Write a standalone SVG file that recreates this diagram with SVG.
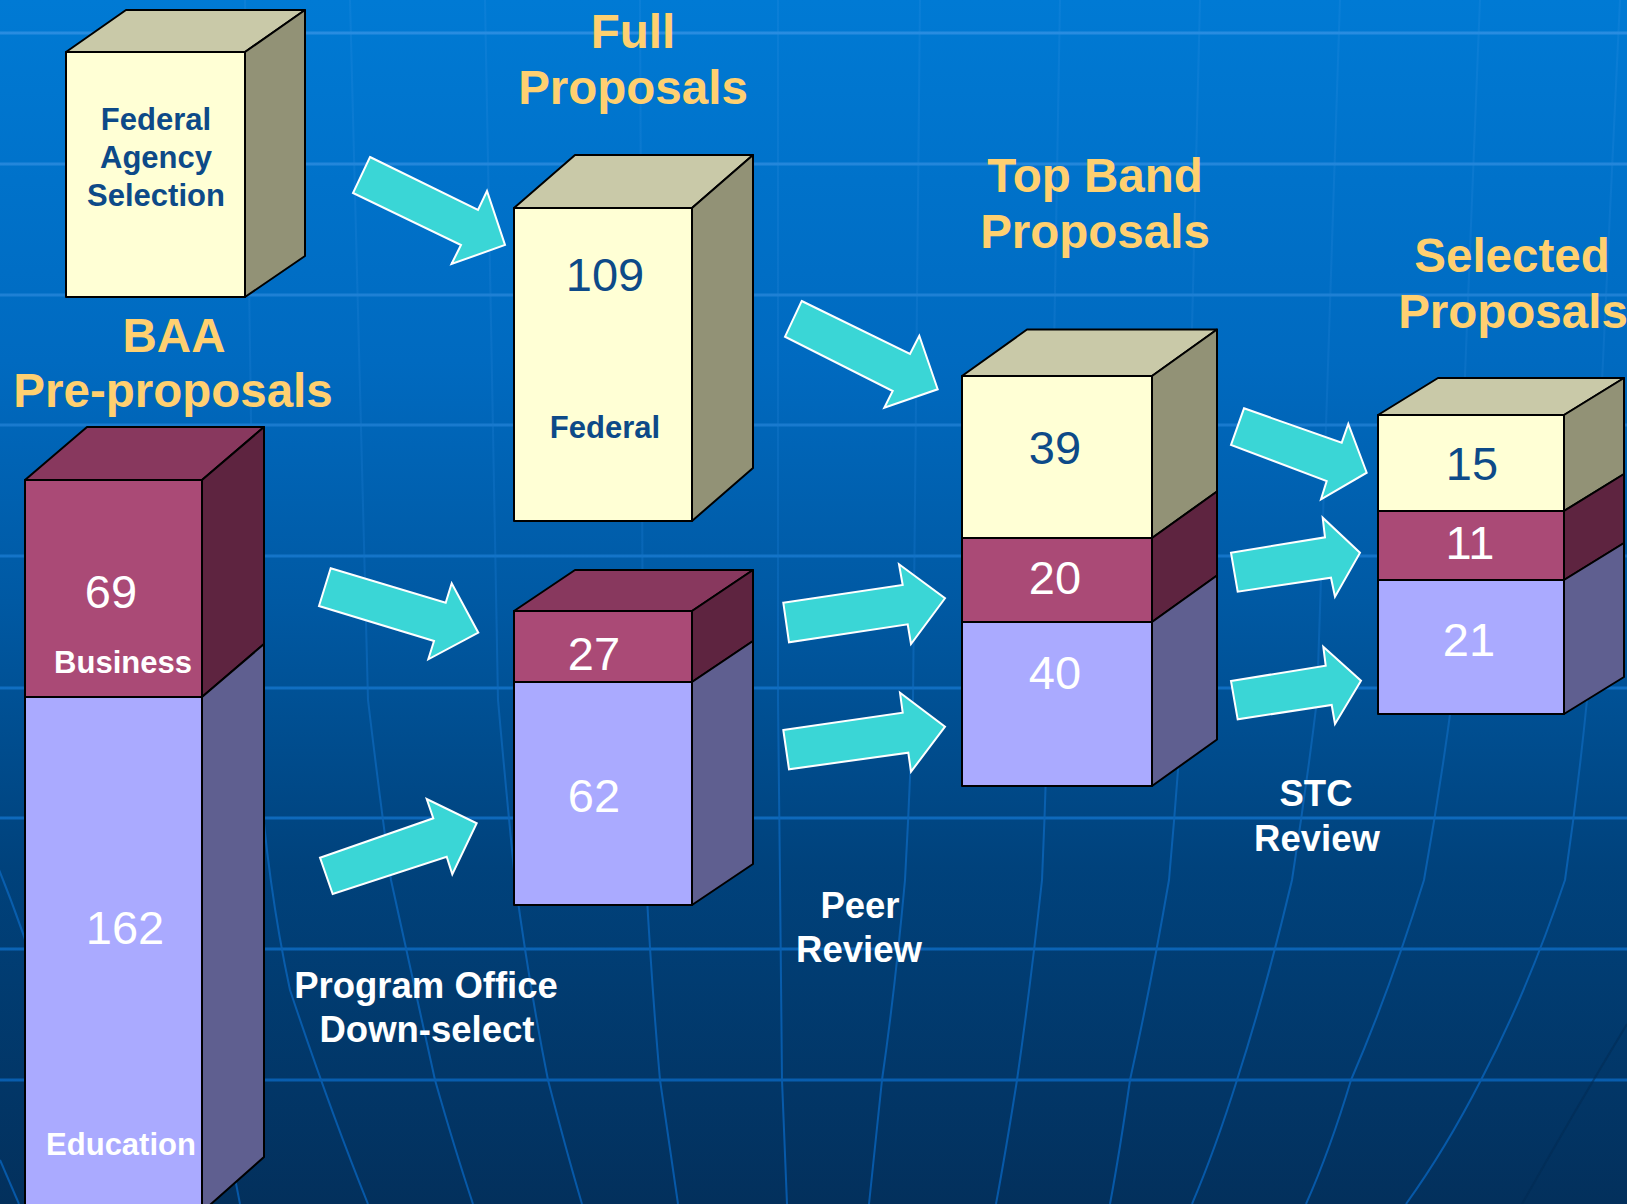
<svg xmlns="http://www.w3.org/2000/svg" width="1627" height="1204" viewBox="0 0 1627 1204">
<defs>
<linearGradient id="bg" x1="0" y1="0" x2="0" y2="1204" gradientUnits="userSpaceOnUse">
<stop offset="0" stop-color="#007ad4"/>
<stop offset="0.3" stop-color="#006ac0"/>
<stop offset="0.5" stop-color="#0059a3"/>
<stop offset="0.72" stop-color="#00427c"/>
<stop offset="1" stop-color="#03305c"/>
</linearGradient>
<linearGradient id="ln" x1="0" y1="0" x2="0" y2="1204" gradientUnits="userSpaceOnUse">
<stop offset="0" stop-color="#2a8ee2"/>
<stop offset="0.5" stop-color="#1272c6"/>
<stop offset="1" stop-color="#0658a8"/>
</linearGradient>
<linearGradient id="lnv" x1="0" y1="0" x2="0" y2="1204" gradientUnits="userSpaceOnUse">
<stop offset="0" stop-color="#2a8ee2" stop-opacity="0.25"/>
<stop offset="0.45" stop-color="#1272c6" stop-opacity="0.45"/>
<stop offset="0.7" stop-color="#0a62b4" stop-opacity="0.9"/>
<stop offset="1" stop-color="#0658a8" stop-opacity="1"/>
</linearGradient>
<style>
.h{stroke:url(#ln);stroke-width:3;fill:none}
.v{stroke:url(#lnv);stroke-width:2;fill:none}
.arrow{fill:#3ad6d6;stroke:#ffffff;stroke-width:2;stroke-linejoin:miter}
.box path,.box rect,.box polygon{stroke:#000;stroke-width:2;stroke-linejoin:round}
.cf{fill:#ffffd5}.ct{fill:#c9c9a8}.cs{fill:#929276}
.mf{fill:#aa4a76}.mt{fill:#88385e}.ms{fill:#5e2440}
.lf{fill:#aaaaff}.ls{fill:#5f5f90}
text{font-family:"Liberation Sans",Arial,sans-serif;text-anchor:middle}
.title{font-weight:bold;font-size:47.5px;fill:#ffd070}
.lbl{font-weight:bold;font-size:36.5px;fill:#ffffff}
.numd{font-size:47px;fill:#0d4a88}
.numw{font-size:47px;fill:#ffffff}
.bd{font-weight:bold;font-size:31px;fill:#0d4a88}
.bw{font-weight:bold;font-size:31px;fill:#ffffff}
</style>
</defs>

<g id="background">
<rect x="0" y="0" width="1627" height="1204" fill="url(#bg)"/>
<g>
<line class="h" x1="0" y1="33" x2="1627" y2="33"/>
<line class="h" x1="0" y1="164" x2="1627" y2="164"/>
<line class="h" x1="0" y1="295" x2="1627" y2="295"/>
<line class="h" x1="0" y1="425" x2="1627" y2="425"/>
<line class="h" x1="0" y1="556" x2="1627" y2="556"/>
<line class="h" x1="0" y1="688" x2="1627" y2="688"/>
<line class="h" x1="0" y1="818" x2="1627" y2="818"/>
<line class="h" x1="0" y1="949" x2="1627" y2="949"/>
<line class="h" x1="0" y1="1080" x2="1627" y2="1080"/>
</g>
<g>
<path class="v" d="M-5,860 Q20,920 45,1000"/>
<path class="v" d="M0,1160 L19,1204"/>
<path class="v" d="M200,1040 Q225,1120 240,1204"/>
<path class="v" d="M245,0 L255,700 Q262,860 290,990 Q330,1110 368,1204"/>
<path class="v" d="M350,0 L368,700 Q380,800 391,880 Q415,990 435,1080 Q455,1150 473,1204"/>
<path class="v" d="M485,0 L498,700 Q506,790 515,880 Q530,990 548,1080 Q566,1150 582,1204"/>
<path class="v" d="M640,0 L643,700 L646,880 Q652,990 660,1080 L678,1204"/>
<path class="v" d="M778,0 L778,700 L780,880 L782,1080 L787,1204"/>
<path class="v" d="M920,0 L913,700 Q910,790 905,880 Q895,990 882,1080 L869,1204"/>
<path class="v" d="M1060,0 L1048,700 Q1046,790 1042,880 Q1030,990 1017,1080 Q1006,1150 996,1204"/>
<path class="v" d="M1200,0 L1183,700 Q1177,790 1169,880 Q1150,990 1130,1080 Q1120,1150 1110,1204"/>
<path class="v" d="M1340,0 L1317,700 Q1306,790 1292,880 Q1266,990 1237,1080 Q1215,1150 1192,1204"/>
<path class="v" d="M1480,0 L1452,700 Q1440,790 1424,880 Q1390,990 1351,1080 Q1330,1150 1306,1204"/>
<path class="v" d="M1620,0 L1587,700 Q1578,790 1565,880 Q1528,990 1481,1080 Q1445,1150 1406,1204"/>
<path d="M1627,1024 Q1575,1110 1522,1204" stroke="#022a52" stroke-width="2" fill="none" opacity="0.5"/>
</g>
</g>

<g id="connectors">
<path class="arrow" d="M370,157 L478,210 L487,191 L505,245 L451.5,264 L461,245 L353,193 Z"/>
<path class="arrow" d="M801.7,301 L910,354 L919.3,335.7 L937.7,389.3 L884.3,407.7 L892.7,391 L785,336.7 Z"/>
<path class="arrow" d="M330.7,568.3 L445.7,602.7 L451.7,583.3 L478.3,632.7 L428.3,659.3 L434,641 L319,606 Z"/>
<path class="arrow" d="M320,857.7 L433.3,818.3 L426.7,799 L476.7,823.3 L452.3,874.3 L446.7,856.7 L332.7,894 Z"/>
<path class="arrow" d="M783.3,602.7 L902.7,585 L899,564.3 L945,598.3 L911,644 L907.7,624.3 L789,642.3 Z"/>
<path class="arrow" d="M783.3,730 L902.7,712.7 L900,692.7 L945,726.7 L911,771.7 L908.3,752.7 L789,769.3 Z"/>
<path class="arrow" d="M1244,408.3 L1341.7,442.7 L1348.3,424 L1366.7,472.7 L1321,499.3 L1326.7,481 L1231,445 Z"/>
<path class="arrow" d="M1231,552.7 L1325,537.3 L1322.7,517.7 L1360,552.7 L1335,596.7 L1331,577.7 L1237.7,591.7 Z"/>
<path class="arrow" d="M1231,681 L1325.7,665.7 L1323.3,646.7 L1361,680.7 L1335,724 L1331.7,705 L1237.7,719.3 Z"/>
</g>

<g id="federal-agency-selection" class="box">
<polygon class="ct" points="66,52 126,10 305,10 245,52"/>
<polygon class="cs" points="245,52 305,10 305,256 245,297"/>
<rect class="cf" x="66" y="52" width="179" height="245"/>
<text class="bd" x="156" y="130">Federal</text>
<text class="bd" x="156" y="168">Agency</text>
<text class="bd" x="156" y="206">Selection</text>
</g>

<g id="baa-pre-proposals" class="box">
<polygon class="mt" points="25,480 87,427 264,427 202,480"/>
<polygon class="ms" points="202,480 264,427 264,644 202,697"/>
<polygon class="ls" points="202,697 264,644 264,1157 202,1212"/>
<rect class="mf" x="25" y="480" width="177" height="217"/>
<rect class="lf" x="25" y="697" width="177" height="520"/>
<text class="title" x="174" y="352">BAA</text>
<text class="title" x="173" y="407">Pre-proposals</text>
<text class="numw" x="111" y="608">69</text>
<text class="bw" x="123" y="673">Business</text>
<text class="numw" x="125" y="944">162</text>
<text class="bw" x="121" y="1155">Education</text>
</g>

<g id="full-proposals-federal" class="box">
<polygon class="ct" points="514,208 575,155 753,155 692,208"/>
<polygon class="cs" points="692,208 753,155 753,468 692,521"/>
<rect class="cf" x="514" y="208" width="178" height="313"/>
<text class="title" x="633" y="48">Full</text>
<text class="title" x="633" y="104">Proposals</text>
<text class="numd" x="605" y="291">109</text>
<text class="bd" x="605" y="438">Federal</text>
</g>

<g id="full-proposals-other" class="box">
<polygon class="mt" points="514,611 575,570 753,570 692,611"/>
<polygon class="ms" points="692,611 753,570 753,641 692,682"/>
<polygon class="ls" points="692,682 753,641 753,864 692,905"/>
<rect class="mf" x="514" y="611" width="178" height="71"/>
<rect class="lf" x="514" y="682" width="178" height="223"/>
<text class="numw" x="594" y="670">27</text>
<text class="numw" x="594" y="812">62</text>
</g>

<g id="top-band-proposals" class="box">
<polygon class="ct" points="962,376 1027,329.5 1217,329.5 1152,376"/>
<polygon class="cs" points="1152,376 1217,329.5 1217,491.5 1152,538"/>
<polygon class="ms" points="1152,538 1217,491.5 1217,575.5 1152,622"/>
<polygon class="ls" points="1152,622 1217,575.5 1217,739.5 1152,786"/>
<rect class="cf" x="962" y="376" width="190" height="162"/>
<rect class="mf" x="962" y="538" width="190" height="84"/>
<rect class="lf" x="962" y="622" width="190" height="164"/>
<text class="title" x="1095" y="192">Top Band</text>
<text class="title" x="1095" y="248">Proposals</text>
<text class="numd" x="1055" y="464">39</text>
<text class="numw" x="1055" y="594">20</text>
<text class="numw" x="1055" y="689">40</text>
</g>

<g id="selected-proposals" class="box">
<polygon class="ct" points="1378,415 1438,378 1624,378 1564,415"/>
<polygon class="cs" points="1564,415 1624,378 1624,474 1564,511"/>
<polygon class="ms" points="1564,511 1624,474 1624,543 1564,580"/>
<polygon class="ls" points="1564,580 1624,543 1624,677 1564,714"/>
<rect class="cf" x="1378" y="415" width="186" height="96"/>
<rect class="mf" x="1378" y="511" width="186" height="69"/>
<rect class="lf" x="1378" y="580" width="186" height="134"/>
<text class="title" x="1512" y="272">Selected</text>
<text class="title" x="1513" y="328">Proposals</text>
<text class="numd" x="1472" y="480">15</text>
<text class="numw" x="1470" y="559">11</text>
<text class="numw" x="1469" y="656">21</text>
</g>

<g id="stage-labels">
<text class="lbl" x="426" y="998">Program Office</text>
<text class="lbl" x="427" y="1042">Down-select</text>
<text class="lbl" x="860" y="918">Peer</text>
<text class="lbl" x="859" y="962">Review</text>
<text class="lbl" x="1316" y="806">STC</text>
<text class="lbl" x="1317" y="851">Review</text>
</g>
</svg>
